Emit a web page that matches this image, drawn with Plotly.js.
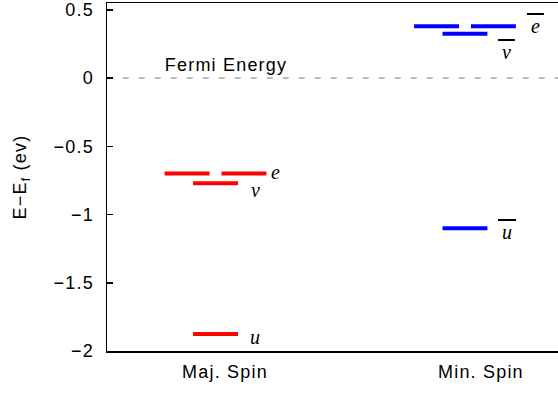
<!DOCTYPE html>
<html>
<head>
<meta charset="utf-8">
<script src="https://cdn.plot.ly/plotly-3.0.1.min.js"></script>
<style>html,body{margin:0;padding:0;background:#fff;}#chart{width:558px;height:394px;}
#chart .xtick text, #chart .ytick text, #chart .ytitle, #chart .annotation-text.sans{letter-spacing:1.2px;}</style>
</head>
<body>
<div id="chart"></div>
<script>
// ---- data ----
const spinLabels = ['Maj. Spin', 'Min. Spin'];
const levelNames = ['e', 'v', 'u'];
const degeneracy = [2, 1, 1];
const majEnergy = [-0.70, -0.77, -1.875];
const minEnergy = [0.38, 0.325, -1.10];
const fermiEnergy = 0;
const yTickVals = [-2, -1.5, -1, -0.5, 0, 0.5];
const yTickText = ['\u22122', '\u22121.5', '\u22121', '\u22120.5', '0', '0.5'];

// ---- layout helpers (positions / styles) ----
const colors = ['#ff0000', '#0000ff'];
const halfW = 0.09, split = 0.114;
const labelOffsets = { // [dx, dy] relative to level end / energy
  e: [0.01, 0.01],
  v: [0.045, -0.05],
  u: [0.04, -0.025]
};
const traces = [];
const annotations = [];
[majEnergy, minEnergy].forEach((energies, s) => {
  const c = s + 1;
  energies.forEach((E, i) => {
    const centers = degeneracy[i] === 2 ? [c - split, c + split] : [c];
    centers.forEach(xc => {
      traces.push({
        x: [xc - halfW, xc + halfW], y: [E, E], mode: 'lines',
        line: {color: colors[s], width: 4}, hoverinfo: 'skip', showlegend: false
      });
    });
    const name = levelNames[i];
    const off = labelOffsets[name].slice();
    const xEnd = centers[centers.length - 1] + halfW;
    if (s === 1 && name === 'e') { off[0] = 0.035; off[1] = 0.0; }
    if (s === 1 && name === 'v') { off[0] = 0.035; off[1] = -0.135; }
    if (s === 1 && name === 'u') { off[0] = 0.035; off[1] = -0.03; }
    const txt = s === 0 ? '<i>' + name + '</i>'
                        : '<span style="text-decoration:overline"><i>\u2009' + name + '\u2009</i></span>';
    annotations.push({
      x: xEnd + off[0], y: E + off[1], xref: 'x', yref: 'y', text: txt, showarrow: false,
      xanchor: 'left', yanchor: 'middle',
      font: {family: 'Liberation Serif, Times New Roman, serif', size: 20, color: '#000'}
    });
  });
});
// Fermi line
traces.push({
  x: [0.5, 2.5], y: [fermiEnergy, fermiEnergy], mode: 'lines',
  line: {color: '#777', width: 1, dash: '6px,10px'}, hoverinfo: 'skip', showlegend: false
});
annotations.push({
  x: 0.818, y: fermiEnergy + 0.01, xref: 'x', yref: 'y', text: 'Fermi Energy', showarrow: false,
  xanchor: 'left', yanchor: 'bottom', name: 'fermi',
  font: {family: 'Liberation Sans, Arial, sans-serif', size: 18, color: '#000'}
});

const layout = {
  width: 558, height: 394,
  margin: {l: 107, r: 0, t: 3, b: 43},
  paper_bgcolor: '#fff', plot_bgcolor: '#fff',
  font: {family: 'Liberation Sans, Arial, sans-serif', size: 18, color: '#000'},
  showlegend: false,
  xaxis: {
    range: [0.565, 2.373], showgrid: false, zeroline: false,
    showline: true, linecolor: '#000', linewidth: 1.5, mirror: true,
    tickvals: [1.038, 2.064], ticktext: spinLabels, ticks: '',
    ticklabelstandoff: 4
  },
  yaxis: {
    range: [-2, 0.55], showgrid: false, zeroline: false,
    showline: true, linecolor: '#000', linewidth: 1.5,
    tickvals: yTickVals, ticktext: yTickText,
    ticks: 'inside', ticklen: 6, tickwidth: 1.5, tickcolor: '#000',
    ticklabelstandoff: 8,
    title: {text: 'E\u2212E<sub>f</sub> (ev)', font: {size: 18}, standoff: 27}
  },
  annotations: annotations
};
Plotly.newPlot('chart', traces, layout, {displayModeBar: false, staticPlot: true}).then(gd => {
  const texts = gd.querySelectorAll('.annotation-text');
  texts.forEach(t => { if (t.textContent === 'Fermi Energy') t.classList.add('sans'); });
});
</script>
</body>
</html>
